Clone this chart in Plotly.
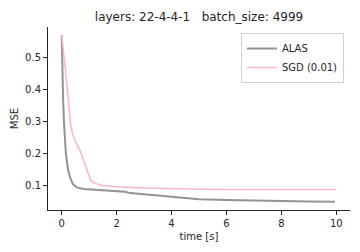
import plotly.graph_objects as go

# ALAS run (grey)
alas_t = [0, 0.02, 0.05, 0.08, 0.15, 0.23, 0.32, 0.41, 0.54, 0.8, 1.2, 1.6, 2.1, 2.3,
          2.5, 3.0, 3.5, 4.0, 4.5, 5.0, 6.0, 7.0, 8.0, 9.0, 9.95]
alas_mse = [0.57, 0.46, 0.37, 0.30, 0.20, 0.147, 0.12, 0.103, 0.093, 0.088, 0.086, 0.084,
            0.081, 0.079, 0.075, 0.071, 0.067, 0.063, 0.058, 0.056, 0.053, 0.051, 0.050,
            0.049, 0.048]

# SGD (0.01) run (pink)
sgd_t = [0, 0.05, 0.11, 0.23, 0.32, 0.4, 0.48, 0.66, 0.93, 1.05, 1.15, 1.27, 1.5, 2.0,
         3.0, 4.0, 5.0, 6.0, 8.0, 10.0]
sgd_mse = [0.57, 0.52, 0.48, 0.378, 0.29, 0.26, 0.24, 0.21, 0.147, 0.116, 0.108, 0.104,
           0.099, 0.095, 0.091, 0.088, 0.087, 0.0865, 0.0865, 0.0865]

x_ticks = [0, 2, 4, 6, 8, 10]
y_ticks = [0.1, 0.2, 0.3, 0.4, 0.5]

FONT = "DejaVu Sans"
INK = "#262626"

fig = go.Figure()
fig.add_trace(go.Scatter(x=alas_t, y=alas_mse, mode="lines", name="ALAS",
                         line=dict(color="rgba(128,128,128,0.85)", width=2)))
fig.add_trace(go.Scatter(x=sgd_t, y=sgd_mse, mode="lines", name="SGD (0.01)",
                         line=dict(color="#ffb6c1", width=1.5)))

axis_style = dict(showline=True, linecolor=INK, linewidth=1, showgrid=False,
                  zeroline=False, ticks="outside", ticklen=4, tickwidth=1,
                  tickcolor=INK, tickfont=dict(size=10, color=INK), automargin=False)

fig.update_xaxes(range=[-0.5, 10.5], tickmode="array", tickvals=x_ticks,
                 ticktext=[str(v) for v in x_ticks],
                 title=dict(text="time [s]", font=dict(size=10, color=INK), standoff=4),
                 **axis_style)
fig.update_yaxes(range=[0.022, 0.596], tickmode="array", tickvals=y_ticks,
                 ticktext=["%.1f" % v for v in y_ticks],
                 title=dict(text="MSE", font=dict(size=10, color=INK), standoff=4),
                 **axis_style)

# page body adds an 8px margin, so the figure is 8px smaller on each side
fig.update_layout(
    width=352, height=244,
    margin=dict(l=40, r=10, t=19, b=42, autoexpand=False),
    paper_bgcolor="white", plot_bgcolor="white",
    font=dict(family=FONT, color=INK),
    title=dict(text="layers: 22-4-4-1\u00a0\u00a0\u00a0batch_size: 4999",
               xref="paper", x=0.5, xanchor="center",
               yref="container", y=1 - 9 / 244, yanchor="middle",
               font=dict(size=12, color=INK)),
    legend=dict(x=0.98, y=0.967, xanchor="right", yanchor="top", itemwidth=30,
                bgcolor="rgba(255,255,255,0.8)", bordercolor="#d0d0d0", borderwidth=1,
                font=dict(size=10, color=INK), tracegroupgap=0),
    showlegend=True,
)

fig.write_html("out.html")
